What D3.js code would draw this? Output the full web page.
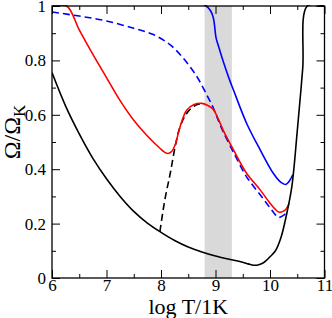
<!DOCTYPE html>
<html>
<head>
<meta charset="utf-8">
<script src="https://cdn.jsdelivr.net/npm/d3@7"></script>
<style>
body { margin: 0; background: #fff; }
svg text { font-family: "Liberation Serif", "DejaVu Serif", serif !important; }
</style>
</head>
<body>
<div id="chart"></div>
<script>
// data: [log T, Omega/Omega_K]
var band = [8.8, 9.3];
var xTicks = [6, 7, 8, 9, 10, 11];
var yTicks = [0, 0.2, 0.4, 0.6, 0.8, 1];

var blackSolid = [[6.0,0.755],[6.25,0.632],[6.5,0.53],[6.75,0.44],[7.0,0.365],[7.25,0.30],[7.5,0.245],
  [7.75,0.202],[8.0,0.168],[8.25,0.138],[8.5,0.114],[8.75,0.096],[9.0,0.081],[9.25,0.069],[9.5,0.058],
  [9.6,0.052],[9.7,0.047],[9.78,0.048],[9.88,0.056],[10.0,0.078],[10.1,0.10],[10.2,0.148],[10.3,0.23],
  [10.4,0.335],[10.5,0.54],[10.6,0.77],[10.685,1.0],[11,1.0]];
var blackDashed = [[7.98,0.17],[8.07,0.287],[8.17,0.385],[8.26,0.483],[8.35,0.556],[8.47,0.605],
  [8.59,0.63],[8.7,0.64],[8.8,0.638]];
var redSolid = [[6.0,1.0],[6.27,1.0],[6.5,0.912],[6.75,0.822],[7.0,0.737],[7.25,0.652],[7.5,0.58],
  [7.75,0.522],[7.98,0.477],[8.07,0.462],[8.13,0.458],[8.2,0.466],[8.26,0.49],[8.35,0.556],
  [8.47,0.617],[8.6,0.637],[8.75,0.642],[8.85,0.635],[8.96,0.62],[9.05,0.585],[9.14,0.544],[9.33,0.471],
  [9.57,0.385],[9.82,0.324],[10.0,0.275],[10.1,0.252],[10.17,0.242],[10.24,0.245],[10.3,0.255],[10.35,0.274]];
var blueDashed = [[6.0,0.978],[6.5,0.963],[7.0,0.945],[7.5,0.918],[7.86,0.895],[8.17,0.857],[8.41,0.808],
  [8.66,0.74],[8.84,0.673],[8.96,0.625],[9.05,0.58],[9.14,0.538],[9.33,0.462],[9.57,0.372],[9.82,0.306],
  [10.0,0.258],[10.1,0.232],[10.15,0.223],[10.2,0.225],[10.26,0.232],[10.31,0.24]];
var blueSolid = [[6.0,1.0],[8.83,1.0],[9.02,0.875],[9.12,0.81],[9.27,0.722],[9.33,0.691],[9.57,0.569],
  [9.82,0.471],[10.06,0.385],[10.18,0.355],[10.24,0.347],[10.29,0.344],[10.35,0.355],[10.42,0.38]];

var width = 332, height = 318;
var plotL = 52, plotR = 324.5, plotT = 6, plotB = 278;

var svg = d3.select("#chart").append("svg")
  .attr("width", width)
  .attr("height", height);

var x = d3.scaleLinear().domain([6, 11]).range([plotL, plotR]);
var y = d3.scaleLinear().domain([0, 1]).range([plotB, plotT]);

svg.append("clipPath").attr("id", "plot")
  .append("rect")
  .attr("x", plotL).attr("y", plotT - 1)
  .attr("width", plotR - plotL).attr("height", plotB - plotT + 1);

// grey band
svg.append("rect")
  .attr("x", x(band[0]))
  .attr("y", plotT)
  .attr("width", x(band[1]) - x(band[0]))
  .attr("height", plotB - plotT)
  .attr("fill", "#d9d9d9");

var line = d3.line()
  .x(function(d) { return x(d[0]); })
  .y(function(d) { return y(d[1]); })
  .curve(d3.curveCatmullRom.alpha(0.5));

var curves = [
  {data: blueSolid, color: "#0000ff", dash: null},
  {data: blueDashed, color: "#0000ff", dash: "7,4"},
  {data: blackDashed, color: "#000", dash: "7,4"},
  {data: redSolid, color: "#ff0000", dash: null},
  {data: blackSolid, color: "#000", dash: null}
];

svg.append("g").attr("clip-path", "url(#plot)")
  .selectAll("path")
  .data(curves)
  .enter().append("path")
    .attr("d", function(d) { return line(d.data); })
    .attr("fill", "none")
    .attr("stroke", function(d) { return d.color; })
    .attr("stroke-width", 1.6)
    .attr("stroke-linejoin", "round")
    .attr("stroke-dasharray", function(d) { return d.dash; });

// axes, ticks pointing inward
var minorX = d3.range(6.5, 11, 1);
var minorY = d3.range(0.1, 1, 0.2);
var fmt = function(d) { return d === 0 || d === 1 ? d3.format("d")(d) : d3.format(".1f")(d); };

svg.append("g")
  .attr("transform", "translate(0," + plotB + ")")
  .call(d3.axisBottom(x).tickValues(xTicks).tickSize(-8).tickPadding(1).tickFormat(d3.format("d")));
svg.append("g")
  .attr("transform", "translate(0," + plotB + ")")
  .call(d3.axisBottom(x).tickValues(minorX).tickSize(-4).tickFormat(""));
svg.append("g")
  .attr("transform", "translate(0," + plotT + ")")
  .call(d3.axisTop(x).tickValues(xTicks).tickSize(-8).tickFormat(""));
svg.append("g")
  .attr("transform", "translate(0," + plotT + ")")
  .call(d3.axisTop(x).tickValues(minorX).tickSize(-4).tickFormat(""));

svg.append("g")
  .attr("transform", "translate(" + plotL + ",0)")
  .call(d3.axisLeft(y).tickValues(yTicks).tickSize(-8).tickPadding(6).tickFormat(fmt));
svg.append("g")
  .attr("transform", "translate(" + plotL + ",0)")
  .call(d3.axisLeft(y).tickValues(minorY).tickSize(-4).tickFormat(""));
svg.append("g")
  .attr("transform", "translate(" + plotR + ",0)")
  .call(d3.axisRight(y).tickValues(yTicks).tickSize(-8).tickFormat(""));
svg.append("g")
  .attr("transform", "translate(" + plotR + ",0)")
  .call(d3.axisRight(y).tickValues(minorY).tickSize(-4).tickFormat(""));

svg.selectAll(".domain").remove();
svg.selectAll("g").attr("font-family", null);
svg.selectAll(".tick line").attr("stroke", "#000").attr("stroke-width", 1);
svg.selectAll(".tick text")
  .attr("font-size", 17)
  .attr("fill", "#000");

// frame
svg.append("rect")
  .attr("x", plotL).attr("y", plotT)
  .attr("width", plotR - plotL).attr("height", plotB - plotT)
  .attr("fill", "none")
  .attr("stroke", "#000")
  .attr("stroke-width", 1.3);

// axis titles
svg.append("text")
  .attr("x", (plotL + plotR) / 2)
  .attr("y", 314)
  .attr("text-anchor", "middle")
  .attr("font-size", 22)
  .text("log T/1K");

var ylab = svg.append("text")
  .attr("transform", "translate(20," + 132 + ") rotate(-90)")
  .attr("text-anchor", "middle")
  .attr("font-size", 24);
ylab.append("tspan").text("Ω/Ω");
ylab.append("tspan").attr("font-size", 17).attr("dy", 5).text("K");
</script>
</body>
</html>
